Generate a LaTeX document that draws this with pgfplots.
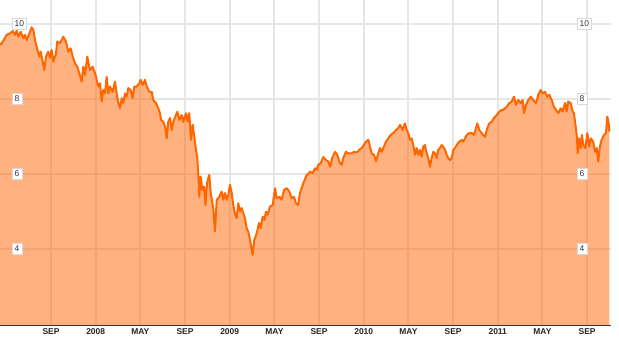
\documentclass[border=0pt]{standalone}
\usepackage{pgfplots}
\usepackage{pgfplotstable}
\pgfplotsset{compat=1.18}
\usepackage{fontspec}
\setmainfont{Liberation Sans}
\definecolor{lineor}{HTML}{FF6600}
\definecolor{gridg}{HTML}{E6E6E6}
\pgfplotstableread{
m v
3.43 9.44
3.59 9.49
3.73 9.55
4.03 9.71
4.33 9.75
4.57 9.81
4.78 9.71
4.93 9.82
5.07 9.66
5.29 9.79
5.52 9.62
5.67 9.71
5.82 9.57
6.06 9.75
6.27 9.91
6.42 9.84
6.57 9.57
6.72 9.39
6.95 9.13
7.08 9.26
7.26 8.99
7.40 8.77
7.55 9.13
7.76 9.26
7.91 9.09
8.06 9.31
8.21 8.99
8.45 9.22
8.56 9.53
8.81 9.49
9.10 9.66
9.34 9.53
9.55 9.26
9.76 9.35
9.94 9.13
10.15 8.95
10.35 8.86
10.53 8.69
10.75 8.46
10.89 8.86
11.04 8.64
11.25 9.13
11.49 8.77
11.73 8.86
11.94 8.69
12.09 8.51
12.23 8.33
12.39 8.42
12.54 7.93
12.68 8.24
12.83 8.15
12.99 8.59
13.13 8.15
13.28 8.33
13.52 8.19
13.73 8.46
13.88 8.15
14.03 7.89
14.18 7.75
14.33 8.02
14.47 7.89
14.63 8.15
14.78 8.06
14.92 8.29
15.14 8.24
15.31 8.02
15.46 8.33
15.67 8.33
15.91 8.42
16.03 8.51
16.21 8.37
16.42 8.51
16.57 8.33
16.80 8.19
17.02 8.19
17.16 7.97
17.40 7.89
17.61 7.75
17.76 7.62
17.85 7.44
18.05 7.39
18.21 7.26
18.36 6.95
18.50 7.39
18.65 7.49
18.81 7.17
18.95 7.39
19.19 7.57
19.31 7.66
19.49 7.44
19.70 7.57
19.84 7.39
20.09 7.62
20.24 7.39
20.38 7.62
20.53 6.91
20.69 7.31
20.83 6.99
20.98 6.64
21.10 6.43
21.19 5.97
21.28 5.39
21.40 5.93
21.55 5.57
21.70 5.66
21.83 5.17
21.97 5.76
22.17 5.97
22.30 5.49
22.53 5.09
22.68 4.46
22.84 5.31
23.07 5.39
23.28 5.53
23.43 5.31
23.58 5.49
23.73 5.31
23.87 5.44
24.03 5.71
24.18 5.49
24.32 5.17
24.47 4.95
24.63 4.82
24.77 5.22
24.92 4.99
25.07 5.09
25.22 4.95
25.37 4.82
25.52 4.55
25.66 4.46
25.82 4.24
25.97 3.97
26.06 3.84
26.20 4.24
26.42 4.42
26.62 4.69
26.77 4.55
26.95 4.86
27.10 4.77
27.25 4.99
27.40 4.91
27.61 5.13
27.85 5.17
28.06 5.62
28.21 5.35
28.44 5.39
28.65 5.31
28.86 5.57
29.10 5.62
29.34 5.53
29.55 5.35
29.76 5.39
29.93 5.22
30.14 5.17
30.29 5.49
30.59 5.75
30.89 5.97
31.19 6.06
31.43 6.02
31.64 6.15
31.79 6.11
31.93 6.24
32.15 6.29
32.38 6.45
32.62 6.37
32.83 6.33
32.98 6.19
33.18 6.42
33.43 6.59
33.63 6.51
33.81 6.33
34.03 6.24
34.17 6.42
34.41 6.59
34.62 6.55
34.92 6.55
35.13 6.59
35.37 6.57
35.60 6.64
35.82 6.69
35.96 6.75
36.20 6.86
36.41 6.91
36.56 6.73
36.71 6.55
36.92 6.51
37.10 6.33
37.30 6.55
37.46 6.69
37.61 6.59
37.81 6.73
37.99 6.86
38.20 6.95
38.41 7.04
38.65 7.09
38.89 7.17
39.09 7.22
39.25 7.31
39.49 7.17
39.69 7.35
39.85 7.17
39.99 7.09
40.14 6.91
40.29 6.95
40.44 6.77
40.59 6.51
40.74 6.69
40.88 6.51
41.04 6.64
41.19 6.46
41.33 6.73
41.48 6.77
41.64 6.55
41.78 6.42
41.93 6.19
42.08 6.42
42.23 6.59
42.38 6.55
42.53 6.42
42.67 6.64
42.83 6.69
42.98 6.77
43.12 6.73
43.28 6.64
43.43 6.51
43.57 6.42
43.72 6.37
43.87 6.42
44.02 6.64
44.17 6.69
44.32 6.77
44.56 6.86
44.77 6.91
44.91 6.86
45.07 6.95
45.22 7.04
45.45 7.09
45.67 7.09
45.87 7.04
46.05 7.22
46.17 7.35
46.35 7.17
46.56 7.09
46.70 7.04
46.86 6.99
47.06 7.22
47.24 7.35
47.46 7.39
47.66 7.49
47.90 7.57
48.14 7.66
48.35 7.71
48.49 7.71
48.80 7.79
49.03 7.89
49.25 7.93
49.45 8.06
49.63 7.84
49.84 7.97
50.05 7.89
50.23 7.97
50.35 7.62
50.53 7.84
50.73 7.97
50.95 8.06
51.18 7.97
51.42 7.89
51.63 8.11
51.84 8.24
52.02 8.15
52.23 8.19
52.43 8.06
52.61 8.11
52.83 7.97
53.03 7.79
53.21 7.71
53.42 7.62
53.63 7.75
53.81 7.66
54.02 7.89
54.17 7.66
54.31 7.93
54.53 7.89
54.71 7.66
54.82 7.62
54.94 7.35
55.07 7.04
55.16 6.55
55.27 6.95
55.42 6.69
55.54 7.04
55.66 6.77
55.84 6.69
56.02 7.09
56.19 6.73
56.35 6.95
56.55 6.86
56.70 6.59
56.86 6.69
57.00 6.33
57.15 6.73
57.30 6.91
57.51 7.04
57.69 7.09
57.81 7.53
57.93 7.35
57.99 7.13
}\pricedata
\pgfplotsset{
  labelaxis/.style={
    at={(0,0)}, anchor=south west,
    width=611bp, height=325bp, scale only axis,
    xmin=3.434, xmax=58.14, ymin=1.97, ymax=10.64,
    axis x line=none,
    y axis line style={draw=none},
    major tick length=0pt,
    ytick={4,6,8,10},
    yticklabels={4,6,8,10},
    yticklabel style={anchor=west, draw=black!15, fill=white, inner sep=2.5bp,
      font=\fontsize{8.5}{8.5}\selectfont, text=black!80},
  }
}
\begin{document}
\begin{tikzpicture}
\begin{axis}[
  at={(0,0)}, anchor=south west,
  width=611bp, height=325bp, scale only axis,
  xmin=3.434, xmax=58.14, ymin=1.97, ymax=10.64,
  axis lines*=left,
  y axis line style={draw=none},
  x axis line style={draw=black!80, line width=0.8bp},
  major tick length=0pt,
  xtick={8,12,16,20,24,28,32,36,40,44,48,52,56},
  xticklabels={SEP,2008,MAY,SEP,2009,MAY,SEP,2010,MAY,SEP,2011,MAY,SEP},
  xticklabel style={font=\bfseries\fontsize{8.5}{9}\selectfont, text=black!85},
  ytick={4,6,8,10},
  yticklabels={,,,},
  grid=major,
  major grid style={draw=gridg, line width=2bp},
]
\addplot[draw=none, fill=lineor, fill opacity=0.5] table[x=m,y=v]{\pricedata} \closedcycle;
\addplot[lineor, line width=2bp, line join=round] table[x=m,y=v]{\pricedata};
\end{axis}
\begin{axis}[labelaxis, axis y line*=left, yticklabel style={xshift=12bp}]
\addplot[draw=none] table[x=m,y=v]{\pricedata};
\end{axis}
\begin{axis}[labelaxis, axis y line*=right, yticklabel style={xshift=-34bp}]
\addplot[draw=none] table[x=m,y=v]{\pricedata};
\end{axis}
\pgfresetboundingbox
\path[use as bounding box] (0,-15bp) rectangle (619bp,325bp);
\end{tikzpicture}
\end{document}
